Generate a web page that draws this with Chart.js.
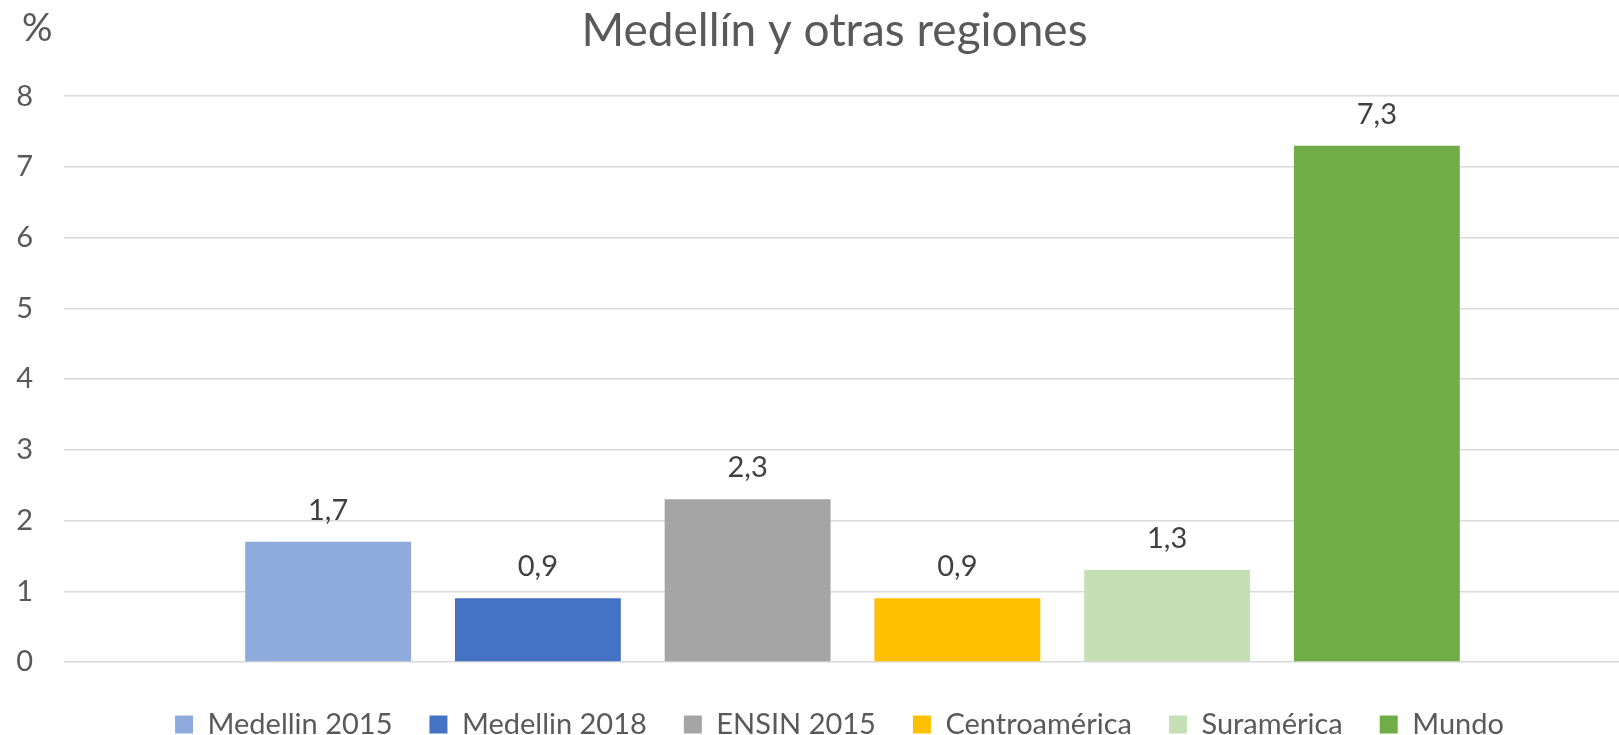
<!DOCTYPE html>
<html lang="es">
  <head>
    <meta charset="UTF-8" />
    <title>Medellín y otras regiones</title>
    <script src="https://cdn.jsdelivr.net/npm/chart.js"></script>
    <style>
      html,
      body {
        margin: 0;
        padding: 0;
        background: #ffffff;
        overflow: hidden;
      }
      canvas {
        display: block;
      }
    </style>
  </head>
  <body>
    <canvas id="grafico" width="1641" height="749"></canvas>
    <script>
      // datos
      const categorias = [""];
      const series = [
        "Medellin 2015",
        "Medellin 2018",
        "ENSIN 2015",
        "Centroamérica",
        "Suramérica",
        "Mundo",
      ];
      const valores = [1.7, 0.9, 2.3, 0.9, 1.3, 7.3];
      const colores = [
        "#8FAADC",
        "#4472C4",
        "#A5A5A5",
        "#FFC000",
        "#C5E0B4",
        "#70AD47",
      ];
      const ejeY = { min: 0, max: 8, paso: 1 };

      Chart.defaults.font.family = "Lato, 'Open Sans', sans-serif";
      Chart.defaults.color = "#595959";

      // etiquetas sobre las barras y el "%" del eje
      const etiquetas = {
        id: "etiquetas",
        afterLayout(chart) {
          // correr titulo y leyenda un poco a la derecha, como en el original
          chart.titleBlock.left += 14;
          chart.titleBlock.right += 14;
          chart.legend.left += 19;
          chart.legend.right += 19;
        },
        afterDatasetsDraw(chart) {
          const ctx = chart.ctx;
          ctx.save();
          ctx.font = "29px Lato, 'Open Sans', sans-serif";
          ctx.fillStyle = "#404040";
          ctx.textAlign = "center";
          ctx.textBaseline = "alphabetic";
          chart.data.datasets.forEach((ds, i) => {
            chart.getDatasetMeta(i).data.forEach((bar, j) => {
              const txt = ds.data[j].toFixed(1).replace(".", ",");
              ctx.fillText(txt, bar.x, bar.y - 22);
            });
          });
          ctx.font = "38px Lato, 'Open Sans', sans-serif";
          ctx.fillStyle = "#595959";
          ctx.textAlign = "left";
          ctx.fillText("%", 22, 41);
          ctx.restore();
        },
      };

      const ctx = document.getElementById("grafico").getContext("2d");
      const grafico = new Chart(ctx, {
        type: "bar",
        data: {
          labels: categorias,
          datasets: series.map((nombre, i) => ({
            label: nombre,
            data: [valores[i]],
            backgroundColor: colores[i],
            borderWidth: 0,
            categoryPercentage: 0.798,
            barPercentage: 0.791,
          })),
        },
        options: {
          responsive: false,
          animation: false,
          plugins: {
            title: {
              display: true,
              text: "Medellín y otras regiones",
              color: "#595959",
              font: { size: 46, weight: "normal" },
              padding: { top: 4, bottom: 37 },
            },
            legend: {
              position: "bottom",
              labels: {
                boxWidth: 18,
                boxHeight: 18,
                padding: 37,
                color: "#595959",
                font: { size: 29 },
              },
            },
            tooltip: { enabled: false },
          },
          scales: {
            x: {
              display: true,
              ticks: { display: false },
              grid: { display: false },
              border: { display: false },
              afterFit(scale) {
                scale.height = 11;
              },
            },
            y: {
              min: ejeY.min,
              max: ejeY.max,
              ticks: {
                stepSize: ejeY.paso,
                padding: 31,
                color: "#595959",
                font: { size: 29 },
              },
              grid: {
                color: "#d9d9d9",
                lineWidth: 1.5,
                drawTicks: false,
              },
              border: { display: false },
              afterFit(scale) {
                scale.width = 64;
              },
            },
          },
        },
        plugins: [etiquetas],
      });
    </script>
  </body>
</html>
